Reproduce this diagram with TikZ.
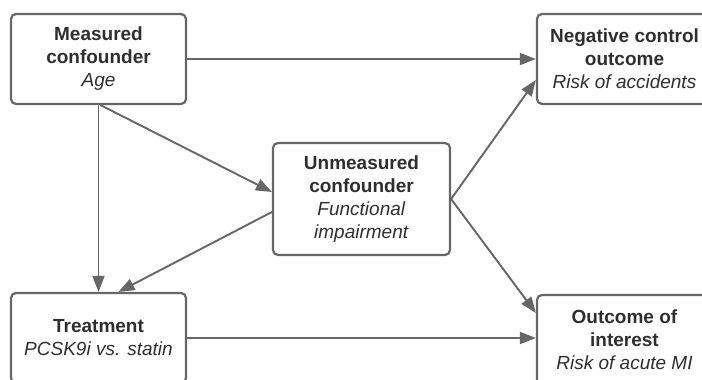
\documentclass[tikz,border=0pt]{standalone}
\usepackage{fontspec}
\setmainfont{Liberation Sans}
\usetikzlibrary{arrows.meta}
\definecolor{boxline}{HTML}{666666}
\definecolor{txt}{HTML}{2E2E2E}
\begin{document}
\begin{tikzpicture}[x=1pt, y=-1pt, line join=round, line cap=round, >={Triangle[length=16pt,width=12pt]},
	font=\fontsize{19}{23}\selectfont,
	box/.style={draw=boxline, line width=2.2pt, rounded corners=5pt, text=txt, align=center, minimum width=175pt, minimum height=90pt, inner sep=0pt},
	link/.style={->, draw=boxline, line width=1.9pt}]
	\useasboundingbox (0,0) rectangle (702,380);
	\clip (0,0) rectangle (702,380);
	\node[box] (meas) at (98.5,59) {\textbf{Measured}\\\textbf{confounder}\\\textit{Age}};
	\node[box] (neg) at (624.5,59) {\textbf{Negative control}\\\textbf{outcome}\\\textit{Risk of accidents}};
	\node[box, minimum width=177pt, minimum height=112pt] (unmeas) at (361.5,199) {\textbf{Unmeasured}\\\textbf{confounder}\\\textit{Functional}\\\textit{impairment}};
	\node[box] (treat) at (98.5,338) {\textbf{Treatment}\\\textit{PCSK9i vs. statin}};
	\node[box] (outc) at (624.5,340) {\textbf{Outcome of}\\\textbf{interest}\\\textit{Risk of acute MI}};
	\draw[link] (meas.east) -- (neg.west);
	\draw[link] (meas.south) -- (treat.north);
	\draw[link] ([xshift=2pt]meas.south) -- ([yshift=7pt]unmeas.west);
	\draw[link] ([yshift=-13pt]unmeas.west) -- ([xshift=20pt]treat.north);
	\draw[link] (unmeas.east) -- ([yshift=-21pt]neg.west);
	\draw[link] (unmeas.east) -- ([yshift=27pt]outc.west);
	\draw[link] (treat.east) -- (treat.east -| outc.west);
\end{tikzpicture}
\end{document}
